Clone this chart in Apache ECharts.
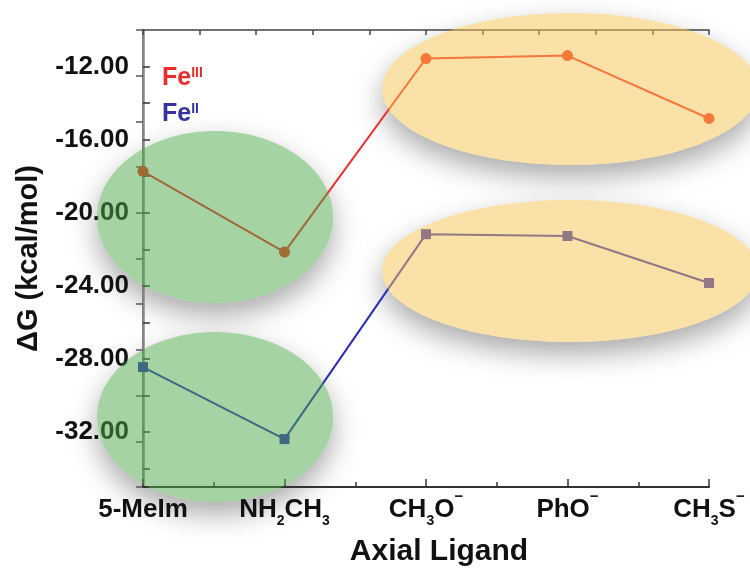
<!DOCTYPE html>
<html><head><meta charset="utf-8">
<script src="https://cdn.jsdelivr.net/npm/echarts@6/dist/echarts.min.js"></script>
<style>html,body{margin:0;padding:0;background:#fff}#c{width:750px;height:574px}</style>
</head><body><div id="c"></div>
<script>
const categories = ['{m|5-MeIm}', '{m|NH}{sub|2}{m|CH}{sub|3}', '{m|CH}{sub|3}{m|O}{sup|−}', '{m|PhO}{sup|−}', '{m|CH}{sub|3}{m|S}{sup|−}'];
const feIII = [-17.73, -22.15, -11.56, -11.40, -14.84];
const feII = [-28.44, -32.38, -21.17, -21.27, -23.84];
const yTickLabels = [-32, -28, -24, -20, -16, -12];
const yTickMarks = [-34, -32, -30, -28, -26, -24, -22, -20, -18, -16, -14, -12];

const FONT = '"Liberation Sans", Arial, sans-serif';
const chart = echarts.init(document.getElementById('c'), null, {renderer: 'canvas'});

function ell(cx, cy, rx, ry, color) {
  return [
    {type: 'ellipse', z: -1, silent: true, shape: {cx, cy, rx, ry},
     style: {fill: '#ffffff', shadowBlur: 28, shadowColor: 'rgba(0,0,0,0.34)', shadowOffsetY: 12}},
    {type: 'ellipse', z: 100, silent: true, shape: {cx, cy, rx, ry}, style: {fill: color}}
  ];
}
const GREEN = 'rgba(75,167,71,0.5)';
const YELLOW = 'rgba(245,195,80,0.5)';

const option = {
  backgroundColor: '#fff',
  animation: false,
  grid: {left: 143, right: 41, top: 30, bottom: 87},
  xAxis: [
    {type: 'value', min: 0, max: 4, interval: 1, position: 'bottom',
     axisLine: {show: true, lineStyle: {color: '#333', width: 2}},
     axisTick: {show: true, inside: true, length: 8, lineStyle: {color: '#333', width: 1.5}},
     minorTick: {show: true, splitNumber: 2, length: 5, lineStyle: {color: '#333', width: 1.5}},
     splitLine: {show: false}, minorSplitLine: {show: false},
     axisLabel: {formatter: v => categories[Math.round(v)], margin: 2, fontFamily: FONT,
       rich: {
         m: {fontSize: 26, fontWeight: 'bold', color: '#111', lineHeight: 42, fontFamily: FONT},
         sub: {fontSize: 14, fontWeight: 'bold', color: '#111', lineHeight: 16, padding: [23, 0, 0, 0], fontFamily: FONT},
         sup: {fontSize: 15, fontWeight: 'bold', color: '#111', lineHeight: 16, padding: [0, 0, 26, 0], fontFamily: FONT}
       }},
     name: 'Axial Ligand', nameLocation: 'middle', nameGap: 50,
     nameTextStyle: {fontSize: 30, fontWeight: 'bold', color: '#111', fontFamily: FONT, padding: [0, 0, 0, 26]}
    },
    {type: 'value', min: 0, max: 10, interval: 1, position: 'top',
     axisLine: {show: true, lineStyle: {color: '#444', width: 1.5}},
     axisTick: {show: true, inside: true, length: 5, lineStyle: {color: '#444', width: 1.5}},
     axisLabel: {show: false}, splitLine: {show: false}}
  ],
  yAxis: [
    {type: 'value', min: -35, max: -10, position: 'left',
     axisLine: {show: true, lineStyle: {color: '#333', width: 1.5}},
     axisTick: {show: true, inside: true, length: 7, customValues: yTickMarks, lineStyle: {color: '#333', width: 1.5}},
     axisLabel: {customValues: yTickLabels, formatter: v => v.toFixed(2), fontSize: 26, fontWeight: 'bold',
       color: '#111', margin: 14, fontFamily: FONT},
     splitLine: {show: false},
     name: 'ΔG (kcal/mol)', nameLocation: 'middle', nameGap: 100,
     nameTextStyle: {fontSize: 29, fontWeight: 'bold', color: '#111', fontFamily: FONT}},
    {type: 'value', min: -35, max: -10, interval: 2.5, position: 'right',
     axisLine: {show: true, lineStyle: {color: '#888', width: 2.5}},
     axisTick: {show: true, inside: true, length: 7, lineStyle: {color: '#555', width: 1.5}},
     axisLabel: {show: false}, splitLine: {show: false}}
  ],
  graphic: [
    ...ell(215, 217, 118, 86, GREEN),
    ...ell(215, 417, 118, 85, GREEN),
    ...ell(570, 89, 188, 76, YELLOW),
    ...ell(570, 271, 188, 71, YELLOW),
    {type: 'text', z: 101, x: 162, y: 78, style: {text: '{a|Fe}{b|III}', verticalAlign: 'middle',
      rich: {a: {fontSize: 25, fontWeight: 'bold', fill: '#ee2b2b', lineHeight: 30, fontFamily: FONT},
             b: {fontSize: 14, fontWeight: 'bold', fill: '#ee2b2b', lineHeight: 14, padding: [0, 0, 10, 0], fontFamily: FONT}}}},
    {type: 'text', z: 101, x: 162, y: 114, style: {text: '{a|Fe}{b|II}', verticalAlign: 'middle',
      rich: {a: {fontSize: 25, fontWeight: 'bold', fill: '#34349c', lineHeight: 30, fontFamily: FONT},
             b: {fontSize: 14, fontWeight: 'bold', fill: '#34349c', lineHeight: 14, padding: [0, 0, 10, 0], fontFamily: FONT}}}}
  ],
  series: [
    {name: 'FeIII', type: 'line', xAxisIndex: 0, yAxisIndex: 0, z: 3,
     data: feIII.map((v, i) => [i, v]), symbol: 'circle', symbolSize: 11,
     lineStyle: {color: '#f52a2a', width: 2}, itemStyle: {color: '#f03020'}},
    {name: 'FeII', type: 'line', xAxisIndex: 0, yAxisIndex: 0, z: 3,
     data: feII.map((v, i) => [i, v]), symbol: 'rect', symbolSize: 10,
     lineStyle: {color: '#2c2cb8', width: 2}, itemStyle: {color: '#2c2cb8'}}
  ]
};
chart.setOption(option);
</script>
</body></html>
